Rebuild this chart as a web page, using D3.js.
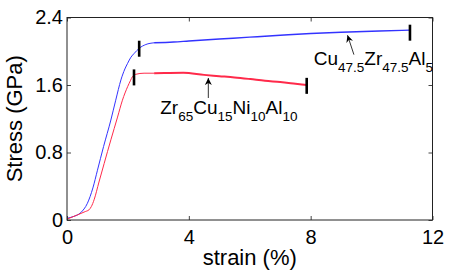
<!DOCTYPE html>
<html>
<head>
<meta charset="utf-8">
<script src="https://cdn.jsdelivr.net/npm/d3@7"></script>
<style>
  html, body { margin: 0; padding: 0; background: #fff; }
  svg { display: block; }
  text { font-family: "Liberation Sans", Arial, Helvetica, sans-serif; fill: #000; }
</style>
</head>
<body>
<svg id="chart" width="450" height="273"></svg>
<script>
// ---------- data ----------
// Cu47.5Zr47.5Al5 (blue): loading part and serrated flow part
const blueLoadX = [0, 0.2, 0.45, 0.67, 0.85, 1.0, 1.2, 1.44, 1.6, 1.77, 1.9, 1.99, 2.1, 2.21, 2.37, 2.59, 2.86];
const blueLoadY = [0.02, 0.04, 0.087, 0.198, 0.38, 0.59, 0.87, 1.185, 1.42, 1.66, 1.79, 1.857, 1.93, 1.976, 2.035, 2.08, 2.10];
const blueFlowX = [2.86, 3.5, 4, 5, 6, 7, 8, 9, 10, 11, 11.26];
const blueFlowY = [2.10, 2.11, 2.122, 2.145, 2.167, 2.189, 2.21, 2.225, 2.237, 2.248, 2.25];

// Zr65Cu15Ni10Al10 (red)
const redLoadX = [0, 0.34, 0.6, 0.72, 0.8, 0.89, 1.05, 1.22, 1.44, 1.66, 1.82, 1.99, 2.08, 2.15, 2.26, 2.53, 2.86];
const redLoadY = [0.01, 0.06, 0.1, 0.12, 0.16, 0.24, 0.45, 0.67, 0.95, 1.22, 1.42, 1.58, 1.65, 1.70, 1.727, 1.74, 1.74];
const redFlowX = [2.86, 3.2, 3.82, 4.5, 5.0, 5.5, 6.02, 6.5, 7.0, 7.5, 7.87];
const redFlowY = [1.74, 1.742, 1.745, 1.72, 1.705, 1.69, 1.67, 1.65, 1.635, 1.615, 1.60];

// start / end-of-flow markers
const markerX = [2.37, 11.26, 2.2, 7.87];
const markerY = [2.03, 2.22, 1.69, 1.59];

// tick labels
const xTicks = [0, 4, 8, 12];
const yTicks = [0, 0.8, 1.6, 2.4];
const yTickLabels = ["0", "0.8", "1.6", "2.4"];

const xLabel = "strain (%)";
const yLabel = "Stress (GPa)";

// ---------- layout ----------
const svg = d3.select("#chart");
const mLeft = 67, mRight = 432.5, mTop = 17.5, mBottom = 220;
const x = d3.scaleLinear().domain([0, 12]).range([mLeft, mRight]);
const y = d3.scaleLinear().domain([0, 2.4]).range([mBottom, mTop]);

const zip = (xs, ys) => xs.map((v, i) => [v, ys[i]]);
const line = d3.line().x(d => x(d[0])).y(d => y(d[1])).curve(d3.curveMonotoneX);

const blueCol = "#3333ff", redCol = "#ff2a4a";

// curves
const g = svg.append("g");
g.append("path").datum(zip(blueLoadX, blueLoadY)).attr("d", line)
  .attr("fill", "none").attr("stroke", blueCol).attr("stroke-width", 1);
g.append("path").datum(zip(blueFlowX, blueFlowY)).attr("d", line)
  .attr("fill", "none").attr("stroke", blueCol).attr("stroke-width", 1.4);
g.append("path").datum(zip(redLoadX, redLoadY)).attr("d", line)
  .attr("fill", "none").attr("stroke", redCol).attr("stroke-width", 1);
g.append("path").datum(zip(redFlowX, redFlowY)).attr("d", line)
  .attr("fill", "none").attr("stroke", redCol).attr("stroke-width", 2);

// markers
g.selectAll("line.mk").data(zip(markerX, markerY)).enter().append("line")
  .attr("class", "mk")
  .attr("x1", d => x(d[0])).attr("x2", d => x(d[0]))
  .attr("y1", d => y(d[1]) - 8).attr("y2", d => y(d[1]) + 8)
  .attr("stroke", "#000").attr("stroke-width", 2.6);

// axes (inward ticks on all four sides)
const tickCol = "#444";
function styleAxis(sel) {
  sel.select(".domain").remove();
  sel.selectAll(".tick line").attr("stroke", tickCol);
  sel.selectAll(".tick text").style("font-size", "20px");
}
svg.append("g").attr("transform", `translate(0,${mBottom})`)
  .call(d3.axisBottom(x).tickValues(xTicks).tickFormat(d3.format("d"))
    .tickSizeInner(-4).tickSizeOuter(0).tickPadding(10))
  .call(styleAxis);
svg.append("g").attr("transform", `translate(${mLeft},0)`)
  .call(d3.axisLeft(y).tickValues(yTicks).tickFormat((d, i) => yTickLabels[i])
    .tickSizeInner(-4).tickSizeOuter(0).tickPadding(4))
  .call(styleAxis);
svg.append("g").attr("transform", `translate(0,${mTop})`)
  .call(d3.axisTop(x).tickValues(xTicks).tickFormat("").tickSizeInner(-4).tickSizeOuter(0))
  .call(styleAxis);
svg.append("g").attr("transform", `translate(${mRight},0)`)
  .call(d3.axisRight(y).tickValues(yTicks).tickFormat("").tickSizeInner(-4).tickSizeOuter(0))
  .call(styleAxis);
svg.selectAll(".tick text").attr("fill", "#000");

// frame
svg.append("rect").attr("x", mLeft).attr("y", mTop)
  .attr("width", mRight - mLeft).attr("height", mBottom - mTop)
  .attr("fill", "none").attr("stroke", "#222").attr("stroke-width", 1);

// axis labels
svg.append("text").attr("x", (mLeft + mRight) / 2).attr("y", 265)
  .attr("text-anchor", "middle").style("font-size", "22px").text(xLabel);
svg.append("text").attr("transform", `translate(22,${(mTop + mBottom) / 2}) rotate(-90)`)
  .attr("text-anchor", "middle").style("font-size", "22px").text(yLabel);

// arrows
const defs = svg.append("defs");
defs.append("marker").attr("id", "ah").attr("viewBox", "0 0 10 10")
  .attr("refX", 10).attr("refY", 5)
  .attr("markerUnits", "userSpaceOnUse").attr("markerWidth", 9).attr("markerHeight", 7)
  .attr("orient", "auto")
  .append("path").attr("d", "M0,0 L10,5 L0,10 L3,5 Z").attr("fill", "#000");

function arrow(x0, y0, x1, y1) {
  svg.append("line").attr("x1", x(x0)).attr("y1", y(y0)).attr("x2", x(x1)).attr("y2", y(y1))
    .attr("stroke", "#333").attr("stroke-width", 1).attr("marker-end", "url(#ah)");
}
arrow(4.64, 1.446, 4.64, 1.683);
arrow(9.42, 1.96, 9.21, 2.19);

// labels with subscripts
function chem(px, py, parts) {
  const t = svg.append("text").attr("x", x(px)).attr("y", y(py)).style("font-size", "19px");
  let sub = false;
  parts.forEach(p => {
    const isSub = !!p.sub;
    const ts = t.append("tspan").text(p.t);
    if (isSub) { ts.style("font-size", "13.5px"); if (!sub) ts.attr("dy", 7); }
    else if (sub) ts.attr("dy", -7);
    sub = isSub;
  });
}
chem(3.06, 1.256, [{t: "Zr"}, {t: "65", sub: true}, {t: "Cu"}, {t: "15", sub: true},
  {t: "Ni"}, {t: "10", sub: true}, {t: "Al"}, {t: "10", sub: true}]);
chem(8.10, 1.837, [{t: "Cu"}, {t: "47.5", sub: true}, {t: "Zr"}, {t: "47.5", sub: true},
  {t: "Al"}, {t: "5", sub: true}]);
</script>
</body>
</html>
